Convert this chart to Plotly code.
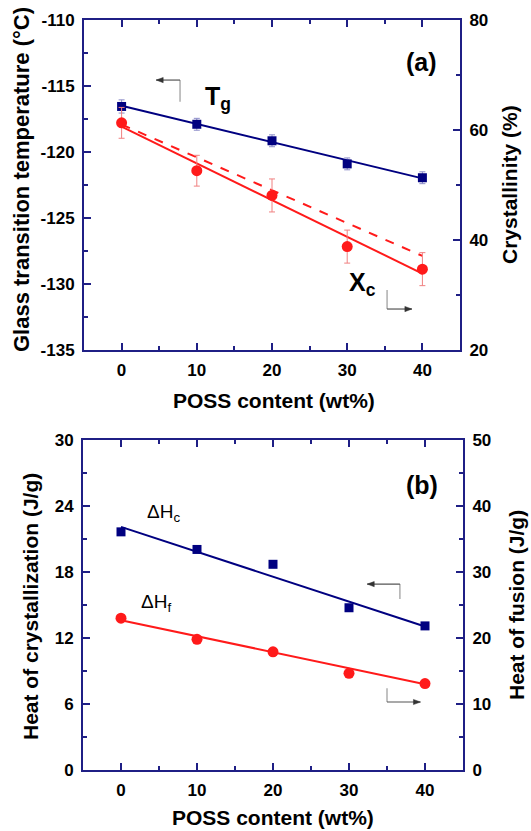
import plotly.graph_objects as go

# ---------------- data ----------------
poss = [0, 10, 20, 30, 40]
fit_x = [0, 40]

tg = [-116.55, -117.9, -119.15, -120.9, -121.95]
tg_err = [0.5, 0.45, 0.45, 0.45, 0.45]
tg_fit = [-116.5, -122.0]

xc = [61.3, 52.6, 48.1, 38.8, 34.7]
xc_err = [2.8, 2.8, 3.0, 3.0, 3.0]
xc_fit = [60.6, 33.9]
xc_fit_dash = [61.0, 37.1]

dhc = [21.65, 20.05, 18.7, 14.75, 13.1]
dhc_fit = [22.1, 13.05]

dhf = [23.0, 19.8, 17.9, 14.65, 13.1]
dhf_fit = [22.7, 13.0]

x_ticks = [0, 10, 20, 30, 40]
tg_ticks = [-135, -130, -125, -120, -115, -110]
tg_ticklabels = ["-135", "-130", "-125", "-120", "-115", "-110"]

NAVY = "#000080"
FRAME = "#1f1f85"
RED = "#ff1a1a"
W, H = 531, 831

FONT = "Liberation Sans, Arial, sans-serif"

fig = go.Figure()

# ---- top panel ----
fig.add_trace(go.Scatter(x=fit_x, y=tg_fit, mode="lines", line=dict(color=NAVY, width=2),
                         xaxis="x", yaxis="y", showlegend=False))
fig.add_trace(go.Scatter(x=poss, y=tg, mode="markers",
                         marker=dict(symbol="square", size=9, color=NAVY),
                         error_y=dict(type="data", array=tg_err, color="#8c8cc8", thickness=1, width=3),
                         xaxis="x", yaxis="y", showlegend=False))
fig.add_trace(go.Scatter(x=fit_x, y=xc_fit, mode="lines", line=dict(color=RED, width=2),
                         xaxis="x", yaxis="y2", showlegend=False))
fig.add_trace(go.Scatter(x=fit_x, y=xc_fit_dash, mode="lines", line=dict(color=RED, width=2, dash="dash"),
                         xaxis="x", yaxis="y2", showlegend=False))
fig.add_trace(go.Scatter(x=poss, y=xc, mode="markers",
                         marker=dict(symbol="circle", size=11, color=RED),
                         error_y=dict(type="data", array=xc_err, color="#f08080", thickness=1, width=3),
                         xaxis="x", yaxis="y2", showlegend=False))

# ---- bottom panel ----
fig.add_trace(go.Scatter(x=fit_x, y=dhc_fit, mode="lines", line=dict(color=NAVY, width=2),
                         xaxis="x2", yaxis="y3", showlegend=False))
fig.add_trace(go.Scatter(x=poss, y=dhc, mode="markers",
                         marker=dict(symbol="square", size=9, color=NAVY),
                         xaxis="x2", yaxis="y3", showlegend=False))
fig.add_trace(go.Scatter(x=fit_x, y=dhf_fit, mode="lines", line=dict(color=RED, width=2),
                         xaxis="x2", yaxis="y4", showlegend=False))
fig.add_trace(go.Scatter(x=poss, y=dhf, mode="markers",
                         marker=dict(symbol="circle", size=11, color=RED),
                         xaxis="x2", yaxis="y4", showlegend=False))

tickfont = dict(family=FONT, size=17, color="black", weight="bold")


def xax(domain, anchor):
    return dict(domain=domain, anchor=anchor, range=[-5, 45], tickvals=x_ticks,
                ticks="inside", ticklen=7, tickwidth=2, tickcolor=FRAME,
                minor=dict(dtick=5, tick0=0, ticks="inside", ticklen=4, tickwidth=2, tickcolor=FRAME),
                showline=True, linecolor=FRAME, linewidth=2, mirror="ticks",
                showgrid=False, zeroline=False, tickfont=tickfont, automargin=False,
                ticklabelstandoff=4)


def yax(domain, anchor, rng, dtick, mdt, side="left", overlaying=None):
    d = dict(domain=domain, anchor=anchor, range=rng, dtick=dtick, tick0=rng[0],
             ticks="inside", ticklen=7, tickwidth=2, tickcolor=FRAME,
             minor=dict(dtick=mdt, tick0=rng[0], ticks="inside", ticklen=4, tickwidth=2, tickcolor=FRAME),
             showline=True, linecolor=FRAME, linewidth=2, side=side,
             showgrid=False, zeroline=False, tickfont=tickfont, automargin=False,
             ticklabelstandoff=4)
    if overlaying:
        d["overlaying"] = overlaying
    return d


top_dom = [1 - 350 / H, 1 - 20 / H]
bot_dom = [1 - 770 / H, 1 - 440 / H]

yaxis_top = yax(top_dom, "x", [-135, -110], 5, 2.5)
yaxis_top.update(tickmode="array", tickvals=tg_ticks, ticktext=tg_ticklabels)

fig.update_layout(
    width=W, height=H,
    margin=dict(l=0, r=0, t=0, b=0),
    paper_bgcolor="white", plot_bgcolor="white",
    showlegend=False,
    xaxis=xax([84 / W, 460 / W], "y"),
    yaxis=yaxis_top,
    yaxis2=yax(top_dom, "x", [20, 80], 20, 10, side="right", overlaying="y"),
    xaxis2=xax([83 / W, 463 / W], "y3"),
    yaxis3=yax(bot_dom, "x2", [0, 30], 6, 3),
    yaxis4=yax(bot_dom, "x2", [0, 50], 10, 5, side="right", overlaying="y3"),
)

titlefont = dict(family=FONT, size=21, color="black", weight="bold")
ann = []


def title(text, x, y, angle=0, size=21):
    f = dict(titlefont)
    f["size"] = size
    ann.append(dict(text=text, x=x / W, y=1 - y / H, xref="paper", yref="paper",
                    showarrow=False, textangle=angle, font=f,
                    xanchor="center", yanchor="middle"))


title("Glass transition temperature (\u00b0C)", 22, 180, -90, 22)
title("Crystallinity (%)", 510, 185, -90)
title("POSS content (wt%)", 274, 400)
title("Heat of crystallization (J/g)", 30, 607, -90)
title("Heat of fusion (J/g)", 516, 605, -90)
title("POSS content (wt%)", 273, 817)

labfont = dict(family=FONT, size=25, color="black", weight="bold")
ann.append(dict(text="(a)", x=39.9, y=-113.2, xref="x", yref="y", showarrow=False,
                font=labfont, xanchor="center", yanchor="middle"))
ann.append(dict(text="(b)", x=39.6, y=25.9, xref="x2", yref="y3", showarrow=False,
                font=labfont, xanchor="center", yanchor="middle"))
ann.append(dict(text="T<sub>g</sub>", x=10.8, y=-115.9, xref="x", yref="y", showarrow=False,
                font=labfont, xanchor="left", yanchor="middle"))
ann.append(dict(text="X<sub>c</sub>", x=30.0, y=32.0, xref="x", yref="y2", showarrow=False,
                font=labfont, xanchor="left", yanchor="middle"))
dhfont = dict(family=FONT, size=19, color="black")
ann.append(dict(text="\u0394H<sub>c</sub>", x=3.1, y=23.4, xref="x2", yref="y3", showarrow=False,
                font=dhfont, xanchor="left", yanchor="middle"))
ann.append(dict(text="\u0394H<sub>f</sub>", x=2.4, y=25.3, xref="x2", yref="y4", showarrow=False,
                font=dhfont, xanchor="left", yanchor="middle"))

ARC = "#555555"
shapes = []

# px-per-unit scales of each axis (used only to size the arrow heads)
PXX = {"x": 376 / 50, "x2": 380 / 50}
PXY = {"y": 330 / 25, "y2": 330 / 60, "y3": 330 / 30, "y4": 330 / 50}


def elbow(xr, yr, xc_, y0, y1, xhead):
    # vertical segment
    shapes.append(dict(type="line", xref=xr, yref=yr, x0=xc_, x1=xc_, y0=y0, y1=y1,
                       line=dict(color="#999999", width=1.2)))
    # horizontal segment
    shapes.append(dict(type="line", xref=xr, yref=yr, x0=xc_, x1=xhead, y0=y0, y1=y0,
                       line=dict(color=ARC, width=1.2)))
    # arrow head (triangle)
    d = 1 if xhead > xc_ else -1
    L = 7 / PXX[xr]
    hw = 2.6 / PXY[yr]
    path = (f"M {xhead} {y0} L {xhead - d * L} {y0 + hw} "
            f"L {xhead - d * L} {y0 - hw} Z")
    shapes.append(dict(type="path", xref=xr, yref=yr, path=path,
                       fillcolor="#333333", line=dict(color="#333333", width=0.5)))


elbow("x", "y", 7.77, -114.55, -116.2, 4.6)
elbow("x", "y2", 35.3, 27.45, 30.9, 38.6)
elbow("x2", "y3", 36.7, 16.9, 15.55, 32.4)
elbow("x2", "y4", 35.0, 10.3, 12.4, 39.4)

fig.update_layout(annotations=ann, shapes=shapes)
fig.write_html("out.html")
